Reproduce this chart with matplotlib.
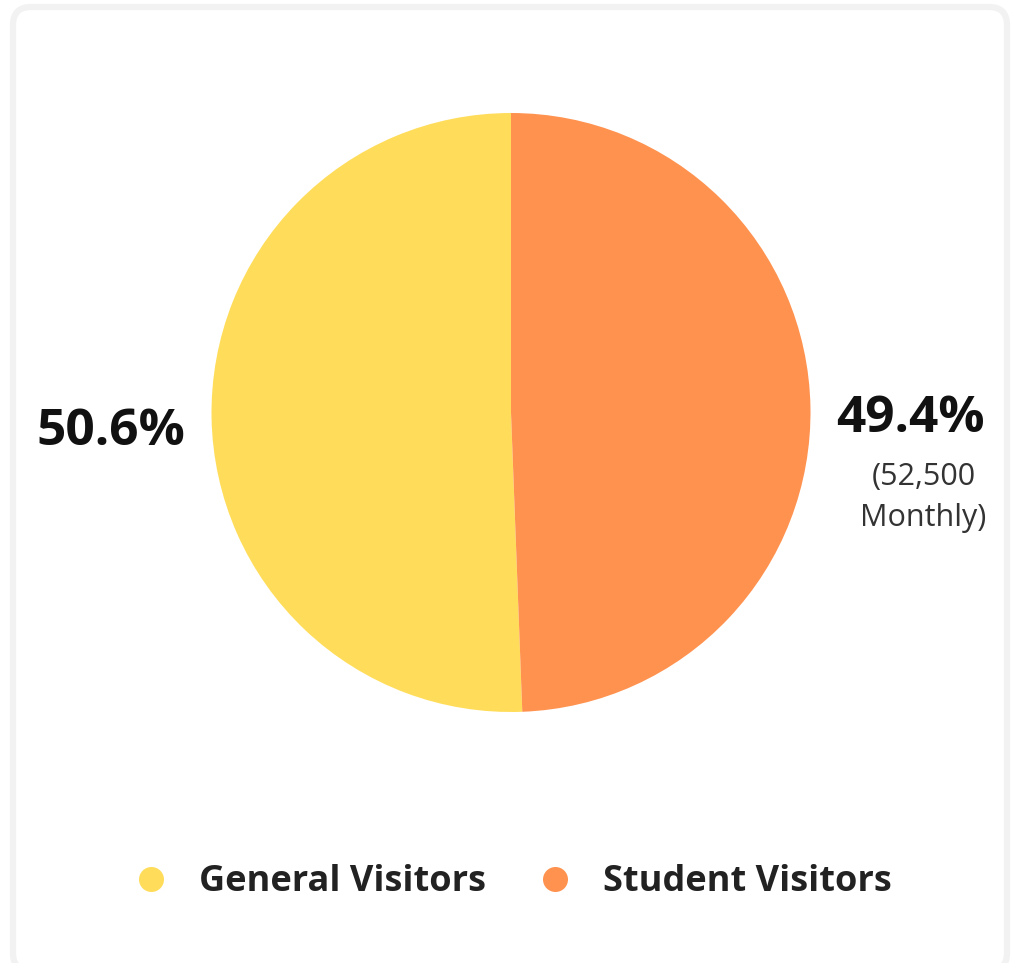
import numpy as np
import matplotlib
matplotlib.use('Agg')
import matplotlib.pyplot as plt
from matplotlib.patches import FancyBboxPatch

categories = ['General Visitors', 'Student Visitors']
shares = [50.6, 49.4]
colors = ['#FFDD5B', '#FF924F']
notes = ['', '(52,500\nMonthly)']

plt.rcParams['font.family'] = ['Open Sans', 'DejaVu Sans']

W, H = 1020, 963
fig = plt.figure(figsize=(W / 100, H / 100), dpi=100)
ax = fig.add_axes([0, 0, 1, 1])

# card outline
ax.add_patch(FancyBboxPatch((13, -8), 994, 964, boxstyle='round,pad=0,rounding_size=18',
                            fc='white', ec='#f2f2f2', lw=4.5, zorder=0))

cx, cy, r = 511, H - 412.5, 299.5
wedges, _ = ax.pie(shares, colors=colors, startangle=90, counterclock=True,
                   center=(cx, cy), radius=r, frame=True,
                   wedgeprops=dict(lw=0))
ax.set_xlim(0, W); ax.set_ylim(0, H)
ax.set_aspect('equal'); ax.axis('off')

for w, pct, note in zip(wedges, shares, notes):
    mid = np.deg2rad((w.theta1 + w.theta2) / 2)
    x = cx + (r + 26) * np.cos(mid)
    y = cy + (r + 26) * np.sin(mid) - 13
    ha = 'left' if np.cos(mid) > 0 else 'right'
    ax.text(x, y, f'{pct:.1f}%', ha=ha, va='center', fontsize=37,
            fontweight='bold', color='#111111')
    if note:
        ax.text(x + 87, y - 78, note, ha='center', va='center', fontsize=22,
                color='#333333', linespacing=1.45)

# legend, drawn by hand
for lx, lab, c in zip([151, 555], categories, colors):
    ax.scatter(lx, H - 879, s=18 ** 2, color=c, lw=0, zorder=3)
    ax.text(lx + 48, H - 882, lab, ha='left', va='center', fontsize=26,
            fontweight='bold', color='#222222')

fig.savefig('out.png', dpi=100)
